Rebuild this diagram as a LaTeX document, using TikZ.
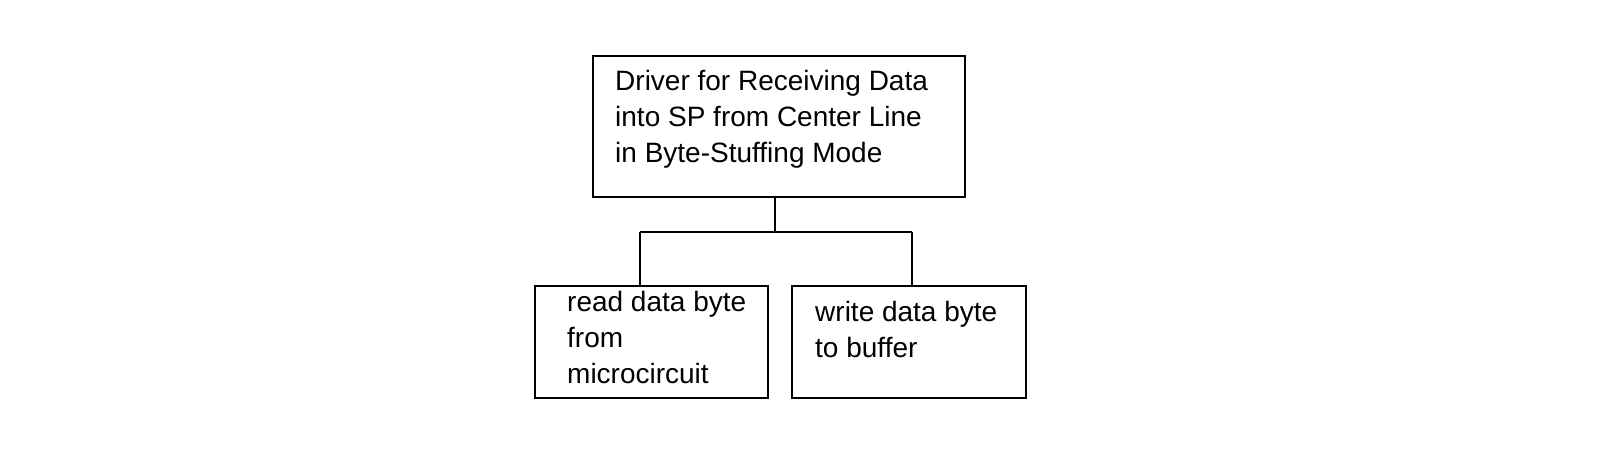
\documentclass[tikz,border=0pt]{standalone}
\usepackage{fontspec}
\setmainfont{Liberation Sans}
\begin{document}
\begin{tikzpicture}[x=1pt,y=-1pt,
  box/.style={draw,line width=2pt,inner sep=0pt,anchor=north west},
  txt/.style={anchor=north west,inner sep=0pt,align=left,font=\fontsize{28}{36}\selectfont},
  line/.style={line width=2pt}]
\useasboundingbox (0,0) rectangle (1602,462);
\node[box,minimum width=372pt,minimum height=141pt] (top) at (592,55) {};
\node[box,minimum width=233pt,minimum height=112pt] (left) at (534,285) {};
\node[box,minimum width=234pt,minimum height=112pt] (right) at (791,285) {};
\node[txt] (ttop) at (615,70) {Driver for Receiving Data\\into SP from Center Line\\in Byte-Stuffing Mode};
\node[txt] (tleft) at (567,291) {read data byte\\from\\microcircuit};
\node[txt] (tright) at (815,301) {write data byte\\to buffer};
\coordinate (j) at (775,232);
\coordinate (jl) at (640,232);
\coordinate (jr) at (912,232);
\draw[line] (top.south -| j) -- (j);
\draw[line] (jl) -- (jr);
\draw[line] (jl) -- (left.north -| jl);
\draw[line] (jr) -- (right.north -| jr);
\end{tikzpicture}
\end{document}
